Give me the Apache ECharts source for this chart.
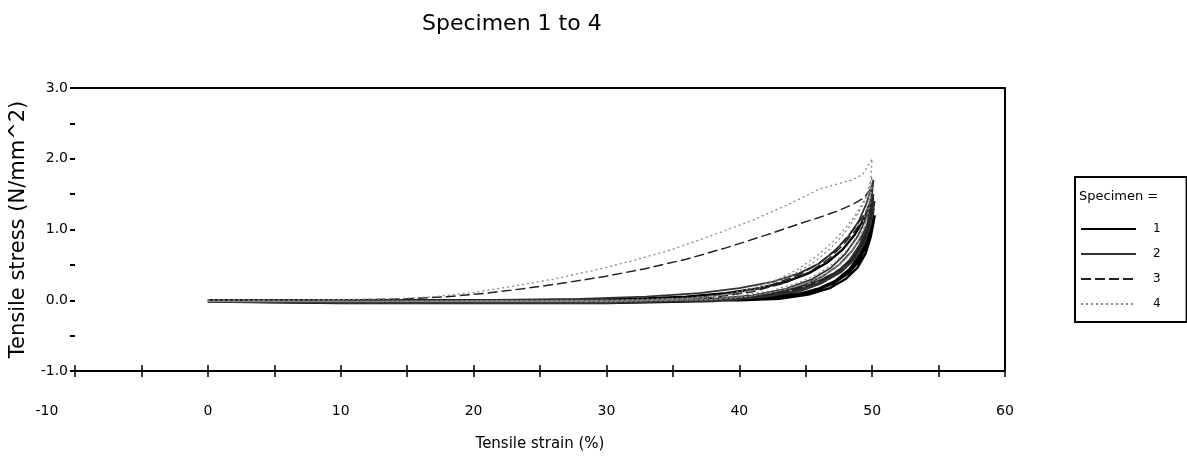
<!DOCTYPE html>
<html>
<head>
<meta charset="utf-8">
<script src="https://cdn.jsdelivr.net/npm/echarts@6/dist/echarts.min.js"></script>
<style>
  html, body { margin: 0; padding: 0; background: #fff; }
  #container { width: 1187px; height: 461px; }
</style>
</head>
<body>
<div id="container"></div>
<script>
// 初始化echarts实例
var myChart = echarts.init(document.getElementById('container'));

var FONT = 'DejaVu Sans';

// 试样名称
var specimenNames = ['1', '2', '3', '4'];

// 试样1：首次加载 + 两次循环（应变 %, 应力 N/mm^2）
var spec1 = [
    [0, 0], [25, 0], [32, 0.02], [36, 0.05], [39, 0.1], [41.5, 0.17], [43.5, 0.26], [45.2, 0.38],
    [46.6, 0.53], [47.8, 0.72], [48.7, 0.93], [49.4, 1.15], [50, 1.45],
    [49.9, 1.15], [49.6, 0.9], [49.2, 0.68], [48.6, 0.48], [47.7, 0.32], [46.4, 0.19], [44.5, 0.09],
    [42, 0.03], [38, -0.01], [30, -0.04], [10, -0.04], [0, -0.02],
    [0, 0], [36, 0], [40, 0.02], [42.5, 0.06], [44.5, 0.13], [46, 0.23], [47.3, 0.38], [48.3, 0.56],
    [49.1, 0.78], [49.7, 1.02], [50.1, 1.3],
    [49.9, 1.0], [49.5, 0.75], [49, 0.55], [48.2, 0.38], [47.1, 0.24], [45.6, 0.13], [43.6, 0.05],
    [41, 0.01], [36, -0.02], [20, -0.04], [0, -0.02],
    [0, 0], [38, 0], [41.5, 0.02], [44, 0.07], [45.8, 0.15], [47.2, 0.27], [48.3, 0.44], [49.1, 0.65],
    [49.7, 0.9], [50.2, 1.2],
    [49.9, 0.9], [49.5, 0.66], [48.9, 0.46], [48, 0.3], [46.8, 0.17], [45.2, 0.08], [43, 0.02],
    [40, 0], [0, -0.02]
];

// 试样2
var spec2 = [
    [0, 0], [20, 0], [28, 0.02], [33, 0.05], [37, 0.1], [40, 0.17], [42.5, 0.26], [44.5, 0.38],
    [46, 0.52], [47.2, 0.7], [48.2, 0.9], [49, 1.12], [49.6, 1.38], [50.1, 1.7],
    [49.9, 1.35], [49.6, 1.05], [49.1, 0.8], [48.4, 0.58], [47.4, 0.4], [46, 0.25], [44, 0.13],
    [41.5, 0.05], [38, 0], [30, -0.04], [10, -0.04], [0, -0.02],
    [0, 0], [34, 0], [38, 0.02], [41, 0.07], [43.5, 0.16], [45.5, 0.3], [46.9, 0.46], [48, 0.66],
    [48.9, 0.9], [49.6, 1.18], [50.1, 1.5],
    [49.9, 1.18], [49.5, 0.9], [48.9, 0.66], [48, 0.46], [46.8, 0.3], [45, 0.17], [42.7, 0.07],
    [40, 0.02], [35, -0.02], [20, -0.04], [0, -0.02],
    [0, 0], [36, 0], [40, 0.03], [42.5, 0.09], [44.5, 0.19], [46.2, 0.33], [47.5, 0.5], [48.5, 0.7],
    [49.3, 0.93], [49.8, 1.15], [50.2, 1.4],
    [49.9, 1.08], [49.4, 0.8], [48.7, 0.58], [47.7, 0.4], [46.3, 0.25], [44.5, 0.13], [42, 0.05],
    [39, 0], [0, -0.02]
];

// 试样3
var spec3 = [
    [0, 0], [10, 0], [15, 0.02], [18, 0.05], [21, 0.1], [24, 0.17], [27, 0.25], [30, 0.34],
    [33, 0.45], [36, 0.58], [39, 0.74], [42, 0.92], [44.5, 1.08], [46.5, 1.2], [47.5, 1.27],
    [48.5, 1.35], [49.4, 1.45], [50, 1.6],
    [49.9, 1.3], [49.6, 1.0], [49.2, 0.78], [48.5, 0.58], [47.5, 0.42], [46, 0.28], [44, 0.16],
    [41.5, 0.07], [38, 0.02], [33, -0.01], [20, -0.03], [0, -0.02],
    [0, 0], [32, 0], [37, 0.04], [40, 0.11], [42.5, 0.22], [44.5, 0.36], [46, 0.52], [47.3, 0.72],
    [48.3, 0.93], [49.1, 1.13], [49.7, 1.3], [50.1, 1.45],
    [49.9, 1.15], [49.5, 0.9], [48.9, 0.68], [48, 0.5], [46.8, 0.34], [45, 0.2], [42.5, 0.09],
    [39.5, 0.03], [35, 0], [20, -0.03], [0, -0.02],
    [0, 0], [34, 0], [38, 0.04], [41, 0.12], [43.5, 0.25], [45.3, 0.4], [46.7, 0.58], [47.8, 0.78],
    [48.7, 0.98], [49.4, 1.17], [50.1, 1.36],
    [49.8, 1.05], [49.3, 0.8], [48.6, 0.6], [47.6, 0.43], [46.2, 0.28], [44.3, 0.15], [41.8, 0.06],
    [38.5, 0.01], [0, -0.02]
];

// 试样4
var spec4 = [
    [0, 0], [5, 0], [10, 0.01], [14, 0.02], [17, 0.05], [20, 0.11], [23, 0.2], [26, 0.3],
    [29, 0.42], [32, 0.56], [35, 0.72], [38, 0.92], [41, 1.13], [44, 1.38], [46, 1.57],
    [47.5, 1.65], [48.5, 1.7], [49.3, 1.78], [50, 2.0],
    [49.9, 1.7], [49.7, 1.4], [49.4, 1.15], [49, 0.95], [48.3, 0.75], [47.3, 0.55], [46, 0.38],
    [44.5, 0.25], [42.5, 0.14], [40, 0.06], [37, 0.02], [33, 0], [25, -0.02], [0, -0.02],
    [0, 0], [30, 0], [36, 0.03], [39, 0.08], [41, 0.17], [43, 0.3], [44.5, 0.45], [45.8, 0.62],
    [47, 0.82], [48, 1.02], [48.8, 1.22], [49.5, 1.45], [50, 1.75],
    [49.8, 1.4], [49.5, 1.1], [49, 0.85], [48.2, 0.62], [47, 0.42], [45.5, 0.27], [43.5, 0.15],
    [41, 0.06], [38, 0.01], [30, -0.02], [0, -0.02],
    [0, 0], [32, 0], [37, 0.03], [40, 0.1], [42, 0.2], [44, 0.36], [45.5, 0.52], [46.8, 0.72],
    [47.8, 0.92], [48.7, 1.15], [49.4, 1.38], [50, 1.62],
    [49.8, 1.3], [49.4, 1.02], [48.8, 0.78], [48, 0.58], [46.8, 0.4], [45.2, 0.25], [43, 0.13],
    [40.5, 0.05], [38, 0.01], [30, -0.02], [0, -0.02]
];

var specData = [spec1, spec2, spec3, spec4];
// 线型
var lineStyles = [
    {color: '#000', width: 2.4, type: 'solid'},
    {color: '#333', width: 1.8, type: 'solid'},
    {color: '#222', width: 1.5, type: [10, 4]},
    {color: '#888', width: 1.3, type: [2, 3]}
];

var series = specimenNames.map(function (name, i) {
    return {
        name: name,
        type: 'line',
        xAxisIndex: 0,
        yAxisIndex: 0,
        showSymbol: false,
        symbol: 'none',
        smooth: false,
        lineStyle: lineStyles[i],
        itemStyle: {color: lineStyles[i].color},
        data: specData[i]
    };
});

var option = {
    animation: false,
    backgroundColor: '#fff',
    title: {
        text: 'Specimen 1 to 4',
        left: 417,
        top: 8,
        textStyle: {fontFamily: FONT, fontSize: 22, fontWeight: 'normal', color: '#000'}
    },
    legend: {
        orient: 'vertical',
        left: 1075,
        top: 177,
        padding: [46, 26, 12, 5],
        itemWidth: 55,
        itemHeight: 12,
        itemGap: 13,
        borderColor: '#000',
        borderWidth: 2,
        // 图例只显示线，不显示标记点
        itemStyle: {color: 'transparent', borderWidth: 0, opacity: 0},
        data: specimenNames,
        textStyle: {fontFamily: FONT, fontSize: 12, color: '#000', padding: [0, 0, 0, 12]}
    },
    graphic: [{
        type: 'text',
        left: 1079,
        top: 190,
        style: {text: 'Specimen =', fontFamily: FONT, fontSize: 13, fill: '#000'}
    }],
    grid: {left: 72, right: 182, top: 88, bottom: 90},
    xAxis: [{
        type: 'value',
        position: 'bottom',
        min: -10,
        max: 60,
        interval: 5,
        name: 'Tensile strain (%)',
        nameLocation: 'middle',
        nameGap: 66,
        nameTextStyle: {fontFamily: FONT, fontSize: 15, color: '#000'},
        axisLine: {show: true, onZero: false, lineStyle: {color: '#000', width: 2}},
        axisTick: {show: true, inside: false, length: 6, lineStyle: {color: '#000', width: 1.5}},
        axisLabel: {
            margin: 33,
            fontFamily: FONT,
            fontSize: 14,
            color: '#000',
            formatter: function (v) {
                if (v % 10 !== 0) return '';
                if (v === -10) return '{m|-10}';
                return String(v);
            },
            rich: {m: {fontFamily: FONT, fontSize: 14, color: '#000', padding: [0, 56, 0, 0]}}
        },
        splitLine: {show: false}
    }, {
        type: 'value',
        position: 'bottom',
        min: -10,
        max: 60,
        interval: 5,
        axisLine: {show: false, onZero: false},
        axisTick: {show: true, inside: true, length: 6, lineStyle: {color: '#000', width: 1.5}},
        axisLabel: {show: false},
        splitLine: {show: false}
    }, {
        type: 'value',
        position: 'top',
        min: -10,
        max: 60,
        axisLine: {show: true, onZero: false, lineStyle: {color: '#000', width: 2}},
        axisTick: {show: false},
        axisLabel: {show: false},
        splitLine: {show: false}
    }],
    yAxis: [{
        type: 'value',
        position: 'left',
        min: -1,
        max: 3,
        interval: 0.5,
        name: 'Tensile stress (N/mm^2)',
        nameLocation: 'middle',
        nameGap: 46,
        nameTextStyle: {fontFamily: FONT, fontSize: 21, color: '#000'},
        axisLine: {show: false, onZero: false},
        axisTick: {show: true, inside: false, length: 5, lineStyle: {color: '#000', width: 2}},
        axisLabel: {
            margin: 7,
            fontFamily: FONT,
            fontSize: 14,
            color: '#000',
            formatter: function (v) {
                return Math.abs(v % 1) < 1e-9 ? v.toFixed(1) : '';
            }
        },
        splitLine: {show: false}
    }, {
        type: 'value',
        position: 'right',
        min: -1,
        max: 3,
        axisLine: {show: true, onZero: false, lineStyle: {color: '#000', width: 2}},
        axisTick: {show: false},
        axisLabel: {show: false},
        splitLine: {show: false}
    }],
    series: series
};
// 使用刚指定的配置项和数据显示图表。
myChart.setOption(option, true);

window.onresize = function () {
    myChart.resize();
};
</script>
</body>
</html>
